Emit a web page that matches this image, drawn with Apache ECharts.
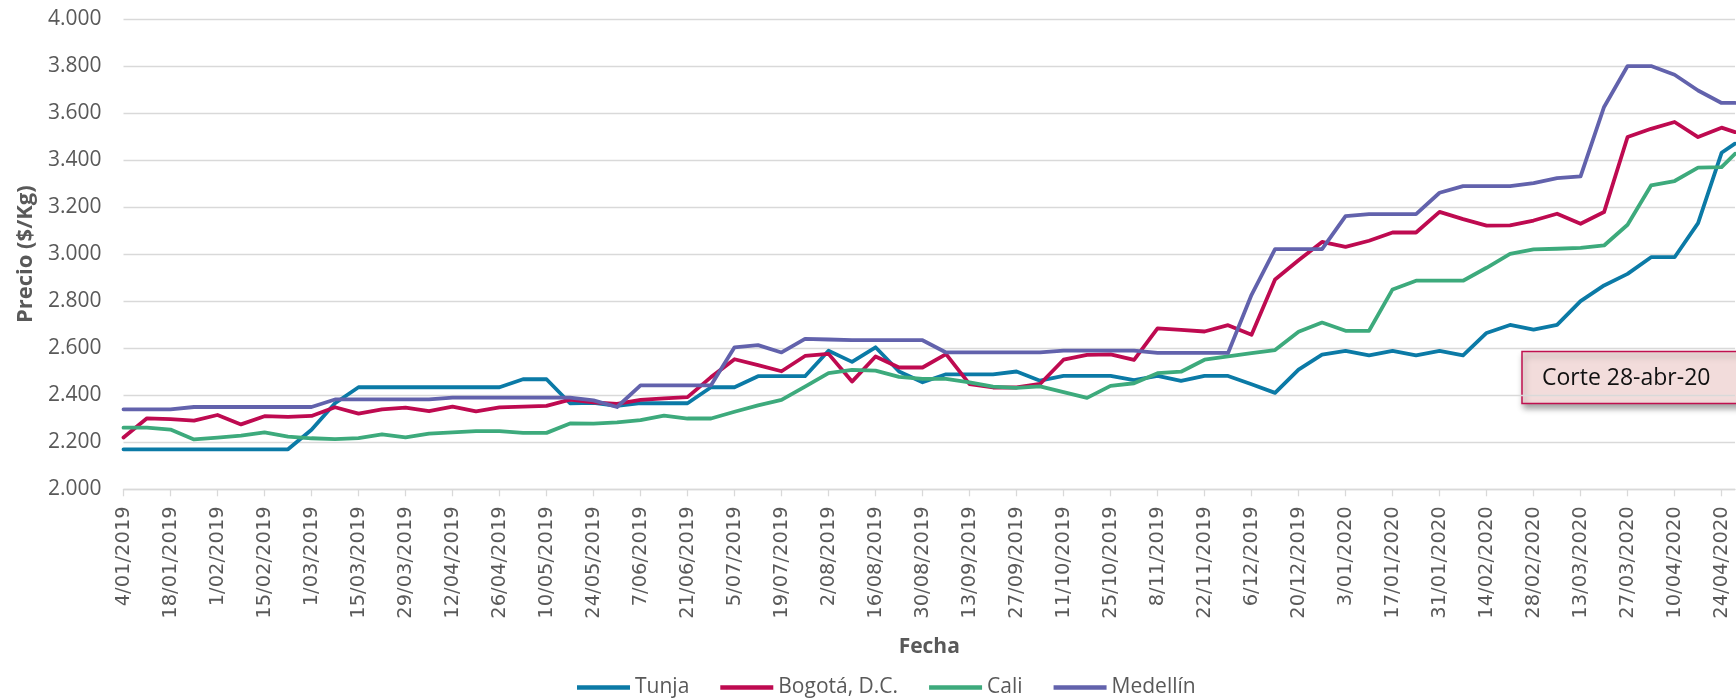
<!DOCTYPE html>
<html>
<head>
<meta charset="utf-8">
<script src="https://cdn.jsdelivr.net/npm/echarts@6/dist/echarts.min.js"></script>
<style>
html,body{margin:0;padding:0;background:#fff;}
#c{width:1736px;height:700px;}
</style>
</head>
<body>
<div id="c"></div>
<script>
// Fechas de los datos (semanal, último punto = corte 28-abr-20)
const fechas = [
 '2019-01-04','2019-01-11','2019-01-18','2019-01-25','2019-02-01','2019-02-08','2019-02-15','2019-02-22',
 '2019-03-01','2019-03-08','2019-03-15','2019-03-22','2019-03-29','2019-04-05','2019-04-12','2019-04-19','2019-04-26',
 '2019-05-03','2019-05-10','2019-05-17','2019-05-24','2019-05-31','2019-06-07','2019-06-14','2019-06-21','2019-06-28',
 '2019-07-05','2019-07-12','2019-07-19','2019-07-26','2019-08-02','2019-08-09','2019-08-16','2019-08-23','2019-08-30',
 '2019-09-06','2019-09-13','2019-09-20','2019-09-27','2019-10-04','2019-10-11','2019-10-18','2019-10-25',
 '2019-11-01','2019-11-08','2019-11-15','2019-11-22','2019-11-29','2019-12-06','2019-12-13','2019-12-20','2019-12-27',
 '2020-01-03','2020-01-10','2020-01-17','2020-01-24','2020-01-31','2020-02-07','2020-02-14','2020-02-21','2020-02-28',
 '2020-03-06','2020-03-13','2020-03-20','2020-03-27','2020-04-03','2020-04-10','2020-04-17','2020-04-24','2020-04-28'
];

const tunja = [
 2170,2170,2170,2170,2170,2170,2170,2170,2253,2366,
 2434,2434,2434,2434,2434,2434,2434,2468,2468,2366,
 2368,2355,2366,2366,2366,2434,2434,2481,2481,2481,
 2589,2542,2604,2501,2455,2489,2489,2489,2501,2462,
 2482,2482,2482,2464,2482,2461,2482,2482,2447,2410,
 2509,2573,2589,2570,2589,2570,2589,2570,2665,2699,
 2679,2699,2800,2867,2916,2987,2987,3132,3431,3470
];
const bogota = [
 2220,2302,2298,2292,2316,2276,2311,2308,2312,2349,
 2322,2340,2347,2332,2352,2331,2348,2352,2355,2381,
 2370,2363,2380,2387,2392,2477,2553,2528,2502,2567,
 2576,2458,2565,2518,2518,2575,2447,2433,2433,2448,
 2551,2572,2574,2550,2684,2678,2671,2698,2657,2892,
 2974,3052,3031,3057,3092,3092,3180,3149,3121,3122,
 3143,3172,3129,3179,3498,3533,3562,3498,3538,3519
];
const cali = [
 2262,2262,2254,2212,2220,2228,2242,2224,2217,2213,
 2218,2234,2221,2237,2242,2247,2247,2240,2240,2280,
 2279,2285,2294,2313,2301,2301,2330,2357,2380,2437,
 2494,2508,2505,2478,2470,2470,2455,2437,2431,2438,
 2413,2389,2440,2451,2494,2500,2551,2565,2579,2592,
 2670,2709,2674,2674,2850,2887,2887,2887,2942,3001,
 3020,3023,3027,3037,3125,3292,3311,3368,3370,3427
];
const medellin = [
 2340,2340,2340,2350,2350,2350,2350,2350,2350,2382,
 2382,2382,2382,2382,2390,2390,2390,2390,2390,2390,
 2378,2350,2442,2442,2442,2442,2604,2613,2582,2640,
 2637,2634,2634,2634,2634,2582,2582,2582,2582,2582,
 2590,2590,2590,2590,2580,2580,2580,2580,2827,3021,
 3021,3021,3162,3170,3170,3170,3261,3289,3289,3289,
 3302,3323,3331,3626,3800,3800,3763,3696,3643,3643
];

const etiquetasX = [
 '4/01/2019','18/01/2019','1/02/2019','15/02/2019','1/03/2019','15/03/2019','29/03/2019','12/04/2019',
 '26/04/2019','10/05/2019','24/05/2019','7/06/2019','21/06/2019','5/07/2019','19/07/2019','2/08/2019',
 '16/08/2019','30/08/2019','13/09/2019','27/09/2019','11/10/2019','25/10/2019','8/11/2019','22/11/2019',
 '6/12/2019','20/12/2019','3/01/2020','17/01/2020','31/01/2020','14/02/2020','28/02/2020','13/03/2020',
 '27/03/2020','10/04/2020','24/04/2020'
];
const etiquetasY = ['2.000','2.200','2.400','2.600','2.800','3.000','3.200','3.400','3.600','3.800','4.000'];

const nombres = ['Tunja','Bogotá, D.C.','Cali','Medellín'];
const colores = ['#0B7AA6','#BE0A50','#3DAA7C','#6262AC'];
const valores = [tunja, bogota, cali, medellin];

const t0 = Date.parse(fechas[0]);
const dia = f => Math.round((Date.parse(f) - t0) / 86400000);
const diaFin = dia(fechas[fechas.length - 1]);

const txt = '#595959';
const chart = echarts.init(document.getElementById('c'), null, {renderer: 'canvas'});

chart.setOption({
  animation: false,
  backgroundColor: '#fff',
  color: colores,
  grid: {left: 123.5, right: 1, top: 19, bottom: 210.7, containLabel: false, outerBoundsMode: 'none'},
  xAxis: {
    type: 'value',
    min: 0,
    max: diaFin,
    interval: 14,
    name: 'Fecha',
    nameLocation: 'middle',
    nameGap: 147,
    nameTextStyle: {fontFamily: 'Open Sans', fontWeight: 'bold', fontSize: 21, color: txt},
    axisLine: {show: true, onZero: false, lineStyle: {color: '#d9d9d9', width: 1.3}},
    axisTick: {show: true, length: 7, lineStyle: {color: '#d9d9d9', width: 1.3}},
    splitLine: {show: false},
    axisLabel: {
      rotate: 90,
      margin: 17,
      showMaxLabel: false,
      showMinLabel: true,
      fontFamily: 'DejaVu Sans',
      fontSize: 19.5,
      color: txt,
      formatter: v => {
        const k = v / 14;
        return Number.isInteger(k) && etiquetasX[k] ? etiquetasX[k] : '';
      }
    }
  },
  yAxis: {
    type: 'value',
    min: 2000,
    max: 4000,
    interval: 200,
    name: 'Precio ($/Kg)',
    nameLocation: 'middle',
    nameRotate: 90,
    nameGap: 86,
    nameTextStyle: {fontFamily: 'Open Sans', fontWeight: 'bold', fontSize: 22, color: txt},
    axisLine: {show: false},
    axisTick: {show: false},
    splitLine: {show: true, lineStyle: {color: '#d9d9d9', width: 1.3}},
    axisLabel: {
      margin: 22,
      fontFamily: 'Open Sans',
      fontSize: 21,
      color: txt,
      formatter: v => etiquetasY[Math.round((v - 2000) / 200)]
    }
  },
  legend: {
    left: 577,
    top: 677,
    padding: 0,
    itemGap: 31,
    itemWidth: 53,
    itemHeight: 4.5,
    icon: 'rect',
    textStyle: {fontFamily: 'Open Sans', fontSize: 21, color: txt},
    data: nombres
  },
  series: valores.map((vals, s) => ({
    name: nombres[s],
    type: 'line',
    symbol: 'none',
    smooth: false,
    data: fechas.map((f, i) => [dia(f), vals[i]]),
    lineStyle: {width: 3.8, color: colores[s], join: 'round', cap: 'round'},
    itemStyle: {color: colores[s]}
  })),
  graphic: [{
    type: 'group',
    children: [
      {
        type: 'rect',
        shape: {x: 1522, y: 351.5, width: 240, height: 52},
        style: {
          fill: '#F2DCDB', stroke: '#C0104F', lineWidth: 1.5,
          shadowBlur: 6, shadowOffsetX: 2, shadowOffsetY: 4, shadowColor: 'rgba(0,0,0,0.35)'
        }
      },
      {
        type: 'text',
        style: {
          x: 1542, y: 378, text: 'Corte 28-abr-20',
          fontFamily: 'Open Sans', fontSize: 23, fill: '#111',
          verticalAlign: 'middle', align: 'left'
        }
      }
    ]
  }]
});
</script>
</body>
</html>
